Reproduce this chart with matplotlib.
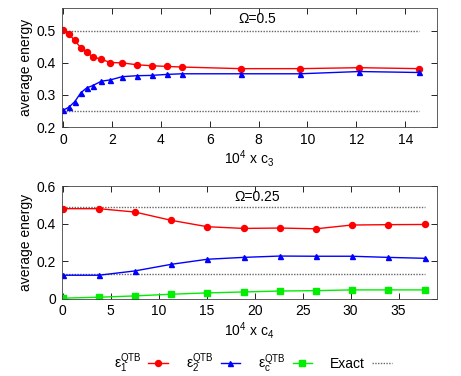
import matplotlib
matplotlib.use("Agg")
import matplotlib.pyplot as plt

plt.rcParams['font.family'] = ['Liberation Sans', 'DejaVu Sans']
plt.rcParams['mathtext.fontset'] = 'custom'
plt.rcParams['mathtext.rm'] = 'Liberation Sans'
plt.rcParams['mathtext.it'] = 'Liberation Sans'
plt.rcParams['font.size'] = 10

# top panel, Omega = 0.5
c3 = [0, 0.24, 0.48, 0.73, 0.97, 1.21, 1.57, 1.94, 2.42, 3.03, 3.63, 4.24, 4.85,
      7.27, 9.70, 12.12, 14.55]
e1_top = [0.502, 0.490, 0.470, 0.447, 0.433, 0.419, 0.411, 0.401, 0.400, 0.394,
          0.391, 0.389, 0.387, 0.382, 0.382, 0.385, 0.382]
e2_top = [0.252, 0.262, 0.279, 0.307, 0.322, 0.329, 0.343, 0.347, 0.357, 0.360,
          0.361, 0.364, 0.366, 0.366, 0.366, 0.373, 0.370]
exact_top = [0.5, 0.25]

# bottom panel, Omega = 0.25
c4 = [0, 3.77, 7.53, 11.3, 15.07, 18.84, 22.6, 26.4, 30.1, 33.9, 37.7]
e1_bot = [0.480, 0.480, 0.462, 0.418, 0.384, 0.375, 0.377, 0.373, 0.393, 0.395, 0.396]
e2_bot = [0.126, 0.126, 0.149, 0.184, 0.211, 0.221, 0.228, 0.227, 0.227, 0.221, 0.216]
ec_bot = [0.004, 0.009, 0.016, 0.025, 0.032, 0.037, 0.042, 0.044, 0.048, 0.048, 0.048]
exact_bot = [0.487, 0.133]

fig = plt.figure(figsize=(4.61, 3.76), dpi=100)
ax1 = fig.add_axes([0.134, 0.662, 0.814, 0.316])
ax2 = fig.add_axes([0.134, 0.205, 0.814, 0.300])

def style(ax):
    ax.tick_params(direction='in', top=True, right=True, length=4, width=0.6, pad=4)
    for s in ax.spines.values():
        s.set_linewidth(0.6)
        s.set_color('#444444')
    ax.set_ylabel('average energy', labelpad=3)

ex_kw = dict(color='#666666', ls=(0, (1, 1)), lw=1.0)

# top
for v in exact_top:
    ax1.plot([c3[0], c3[-1]], [v, v], **ex_kw)
ax1.plot(c3, e1_top, color='red', marker='o', ms=4.3, lw=1)
ax1.plot(c3, e2_top, color='blue', marker='^', ms=3.6, lw=1)
ax1.set_xlim(-0.05, 15.3)
ax1.set_ylim(0.2, 0.57)
ax1.set_xticks(range(0, 15, 2))
ax1.set_yticks([0.2, 0.3, 0.4, 0.5])
ax1.set_xlabel(r'10$^4$ x c$_3$', labelpad=1)
ax1.text(7.95, 0.536, 'Ω=0.5', ha='center', va='center')
style(ax1)

# bottom
l4 = None
for v in exact_bot:
    l4, = ax2.plot([c4[0], c4[-1]], [v, v], **ex_kw)
l1, = ax2.plot(c4, e1_bot, color='red', marker='o', ms=4.3, lw=1)
l2, = ax2.plot(c4, e2_bot, color='blue', marker='^', ms=3.6, lw=1)
l3, = ax2.plot(c4, ec_bot, color='#00ee00', marker='s', ms=4, lw=1)
ax2.set_xlim(-0.1, 39.0)
ax2.set_ylim(0, 0.6)
ax2.set_xticks(range(0, 40, 5))
ax2.set_yticks([0, 0.2, 0.4, 0.6])
ax2.set_yticklabels(['0', '0.2', '0.4', '0.6'])
ax2.set_xlabel(r'10$^4$ x c$_4$', labelpad=1)
ax2.text(20.3, 0.543, 'Ω=0.25', ha='center', va='center')
style(ax2)

labels = [r'ε$_1^{\mathrm{QTB}}$', r'ε$_2^{\mathrm{QTB}}$', r'ε$_\mathrm{c}^{\mathrm{QTB}}$', 'Exact']
fig.legend([l1, l2, l3, l4], labels, ncol=4, loc='center', bbox_to_anchor=(0.548, 0.035),
           frameon=False, markerfirst=False, handlelength=1.4, columnspacing=1.3,
           handletextpad=0.5)

fig.savefig('out.png', dpi=100)
